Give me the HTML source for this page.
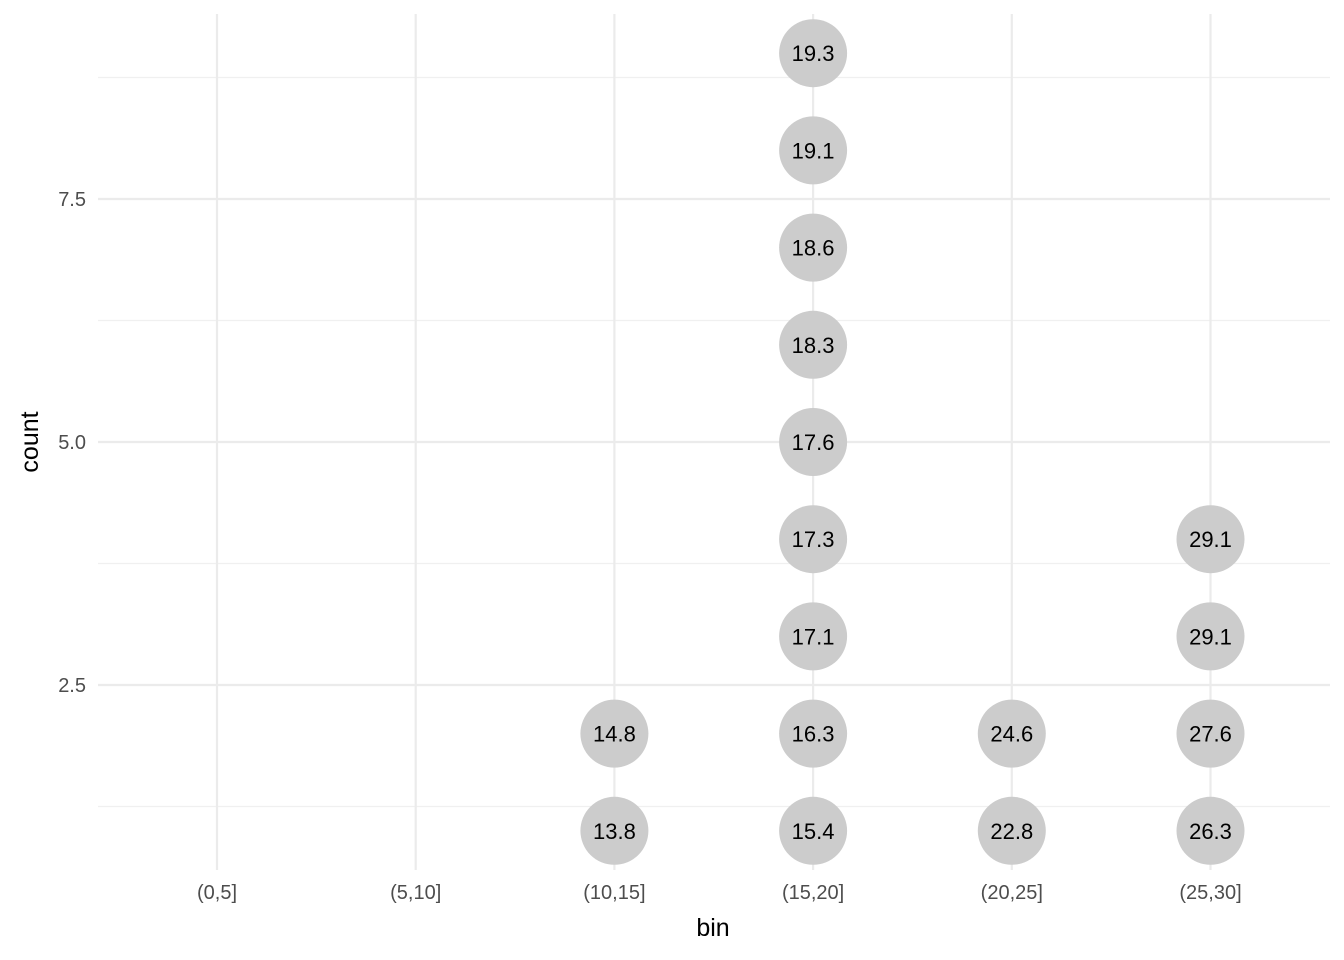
<!DOCTYPE html>
<html><head><meta charset="utf-8"><style>
body{margin:0;background:#fff}
svg{display:block;font-family:"Liberation Sans",sans-serif}
</style></head><body>
<svg id="chart" width="1344" height="960">
<g id="grid"></g>
<g id="axes"></g>
<g id="marks"></g>
<text x="713" y="936" text-anchor="middle" font-size="25" fill="#000">bin</text>
<text transform="translate(38,442) rotate(-90)" text-anchor="middle" font-size="25" fill="#000">count</text>
</svg>
<script>
const categories = ["(0,5]","(5,10]","(10,15]","(15,20]","(20,25]","(25,30]"];
const pointBins = [2,2,3,3,3,3,3,3,3,3,3,4,4,5,5,5,5];
const pointCounts = [1,2,1,2,3,4,5,6,7,8,9,1,2,1,2,3,4];
const pointLabels = ["13.8","14.8","15.4","16.3","17.1","17.3","17.6","18.3","18.6","19.1","19.3","22.8","24.6","26.3","27.6","29.1","29.1"];
const yTicks = [2.5,5.0,7.5];
const yMinor = [1.25,3.75,6.25,8.75];

const NS="http://www.w3.org/2000/svg";
const xL=98,xR=1330,yT=14,yB=870;
const x=i=>217+i*198.7;
const y=v=>685-(v-2.5)*97.2;
function mk(tag,attrs,parent){const e=document.createElementNS(NS,tag);for(const k in attrs)e.setAttribute(k,attrs[k]);parent.appendChild(e);return e;}
const grid=document.getElementById('grid'),axes=document.getElementById('axes'),marks=document.getElementById('marks');
yMinor.forEach(v=>{const l=mk('line',{x1:xL,x2:xR,y1:y(v),y2:y(v),stroke:'#f0f0f0','stroke-width':1.2},grid);

});
yTicks.forEach(v=>{const l=mk('line',{x1:xL,x2:xR,y1:y(v),y2:y(v),stroke:'#ebebeb','stroke-width':2.2},grid);


const t=mk('text',{x:86,y:y(v)+7,'text-anchor':'end','font-size':20,fill:'#4d4d4d'},axes);t.textContent=v.toFixed(1);

});
categories.forEach((c,i)=>{const l=mk('line',{x1:x(i),x2:x(i),y1:yT,y2:yB,stroke:'#ebebeb','stroke-width':2.2},grid);


const t=mk('text',{x:x(i),y:899,'text-anchor':'middle','font-size':20,fill:'#4d4d4d'},axes);t.textContent=c;

});
pointBins.forEach((b,k)=>{const g=mk('g',{},marks);


mk('circle',{cx:x(b),cy:y(pointCounts[k]),r:34,fill:'#cccccc'},g);
const t=mk('text',{x:x(b),y:y(pointCounts[k])+8,'text-anchor':'middle','font-size':22,fill:'#000'},g);t.textContent=pointLabels[k];});
</script>
</body></html>
